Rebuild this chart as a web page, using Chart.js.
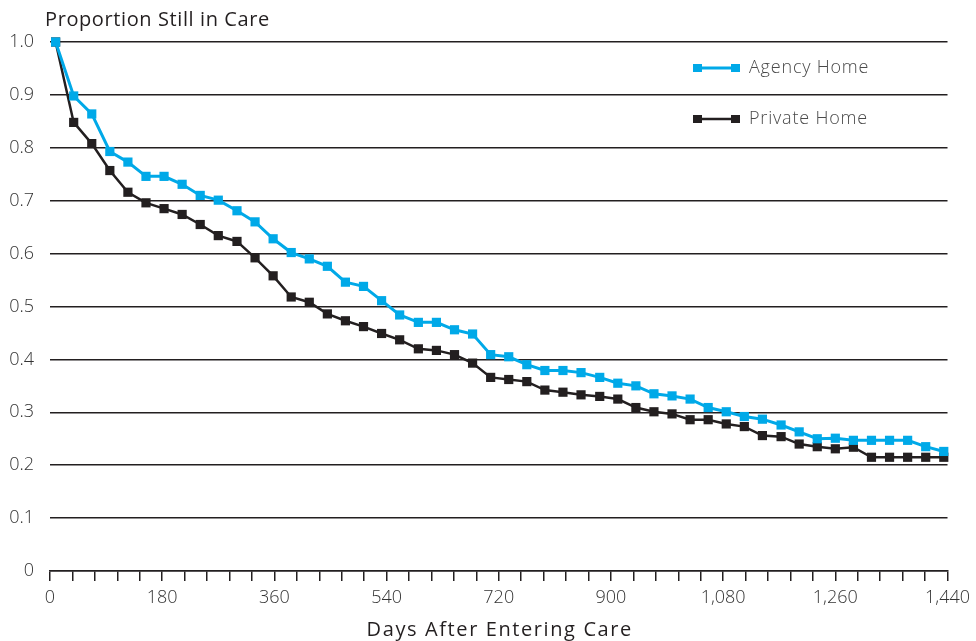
<!DOCTYPE html>
<html>
<head>
<meta charset="utf-8">
<script src="https://cdn.jsdelivr.net/npm/chart.js@4.4.1/dist/chart.umd.min.js"></script>
<style>
html,body{margin:0;padding:0;background:#fff;}
#wrap{width:976px;height:641px;position:relative;}
</style>
</head>
<body>
<div id="wrap"><canvas id="c" width="976" height="641"></canvas></div>
<script>
// Day position of each plotted point
const days = [9, 38, 67, 96, 125, 154, 183, 212, 241, 270, 300, 329, 358, 387, 416, 445, 474, 503, 532, 561,
              591, 620, 649, 678, 707, 736, 765, 794, 823, 852, 882, 911, 940, 969, 998, 1027, 1056, 1085, 1114, 1143,
              1173, 1202, 1231, 1260, 1289, 1318, 1347, 1376, 1405, 1434];
const agencyHome = [1.0, 0.898, 0.864, 0.793, 0.773, 0.746, 0.746, 0.731, 0.710, 0.701,
                    0.681, 0.660, 0.628, 0.602, 0.590, 0.576, 0.546, 0.538, 0.511, 0.484,
                    0.470, 0.470, 0.456, 0.448, 0.409, 0.405, 0.390, 0.379, 0.379, 0.375,
                    0.366, 0.355, 0.350, 0.335, 0.331, 0.325, 0.309, 0.301, 0.292, 0.287,
                    0.276, 0.263, 0.250, 0.251, 0.247, 0.247, 0.247, 0.247, 0.235, 0.226];
const privateHome = [1.0, 0.848, 0.808, 0.757, 0.716, 0.696, 0.685, 0.674, 0.655, 0.634,
                     0.623, 0.592, 0.558, 0.518, 0.508, 0.486, 0.473, 0.462, 0.449, 0.437,
                     0.420, 0.417, 0.409, 0.393, 0.366, 0.362, 0.358, 0.342, 0.338, 0.333,
                     0.330, 0.325, 0.309, 0.301, 0.297, 0.286, 0.286, 0.278, 0.273, 0.256,
                     0.254, 0.240, 0.235, 0.231, 0.234, 0.215, 0.215, 0.215, 0.215, 0.215];
const seriesNames = ['Agency Home', 'Private Home'];
const xLabelDays = [0, 180, 360, 540, 720, 900, 1080, 1260, 1440];
const yTickValues = [0, 0.1, 0.2, 0.3, 0.4, 0.5, 0.6, 0.7, 0.8, 0.9, 1.0];
const chartTitle = 'Proportion Still in Care';
const xTitle = 'Days After Entering Care';

const BLUE = '#00a9e8';
const DARK = '#231f20';
const FONT = '"Open Sans", Lato, sans-serif';

const toPts = arr => arr.map((v, i) => ({x: days[i], y: v}));

const textPlugin = {
  id: 'texts',
  afterDraw(chart) {
    const ctx = chart.ctx;
    const ca = chart.chartArea;
    ctx.save();
    ctx.fillStyle = DARK;
    ctx.textBaseline = 'middle';
    ctx.textAlign = 'left';
    ctx.font = '20px ' + FONT;
    ctx.letterSpacing = '0.6px';
    ctx.fillText(chartTitle, 45, 20);
    ctx.textAlign = 'center';
    ctx.font = '20px ' + FONT;
    ctx.letterSpacing = '1.6px';
    ctx.fillText(xTitle, (ca.left + ca.right) / 2 + 1, 630);
    // legend
    const items = [{y: 68, ds: chart.data.datasets[0]}, {y: 119, ds: chart.data.datasets[1]}];
    items.forEach(it => {
      ctx.strokeStyle = it.ds.borderColor;
      ctx.lineWidth = it.ds.borderWidth;
      ctx.beginPath();
      ctx.moveTo(697, it.y);
      ctx.lineTo(735, it.y);
      ctx.stroke();
      ctx.fillStyle = it.ds.pointBackgroundColor;
      ctx.fillRect(693, it.y - 4, 9, 8);
      ctx.fillRect(731, it.y - 4, 9, 8);
      ctx.fillStyle = '#4a4a4a';
      ctx.font = '300 18px ' + FONT;
      ctx.letterSpacing = '0.8px';
      ctx.textAlign = 'left';
      ctx.fillText(it.ds.label, 749, it.y);
    });
    ctx.restore();
  }
};

new Chart(document.getElementById('c'), {
  type: 'line',
  data: {
    datasets: [
      {label: seriesNames[0], data: toPts(agencyHome), borderColor: BLUE, backgroundColor: BLUE,
       pointBackgroundColor: BLUE, pointBorderColor: BLUE, borderWidth: 3, pointStyle: 'rect',
       pointRadius: 6.5, pointBorderWidth: 0, tension: 0, clip: false},
      {label: seriesNames[1], data: toPts(privateHome), borderColor: DARK, backgroundColor: DARK,
       pointBackgroundColor: DARK, pointBorderColor: DARK, borderWidth: 2.5, pointStyle: 'rect',
       pointRadius: 6.5, pointBorderWidth: 0, tension: 0, clip: false}
    ]
  },
  options: {
    responsive: false,
    animation: false,
    events: [],
    layout: {padding: {left: 0, right: 27, top: 42, bottom: 0}},
    plugins: {legend: {display: false}, tooltip: {enabled: false}, title: {display: false}},
    scales: {
      x: {
        type: 'linear', min: 0, max: 1440,
        afterBuildTicks(scale) {
          const t = [];
          for (let k = 0; k <= 40; k++) t.push({value: k * 36});
          scale.ticks = t;
        },
        afterFit(scale) { scale.height = 70; },
        ticks: {
          autoSkip: false, maxRotation: 0, padding: 6,
          color: '#333', font: {family: FONT, size: 18, weight: 300},
          callback: v => xLabelDays.includes(v) ? v.toLocaleString('en-US') : ''
        },
        grid: {drawOnChartArea: false, drawTicks: true, tickLength: 10, color: DARK, lineWidth: 1.5},
        border: {display: true, color: DARK, width: 1.5}
      },
      y: {
        min: 0, max: 1,
        afterBuildTicks(scale) { scale.ticks = yTickValues.map(v => ({value: v})); },
        afterFit(scale) { scale.width = 50; },
        ticks: {
          padding: 16, color: '#333', font: {family: FONT, size: 18, weight: 300},
          callback: v => v === 0 ? '0' : v.toFixed(1)
        },
        grid: {drawTicks: false, color: DARK, lineWidth: 1.5},
        border: {display: false}
      }
    }
  },
  plugins: [textPlugin]
});
</script>
</body>
</html>
